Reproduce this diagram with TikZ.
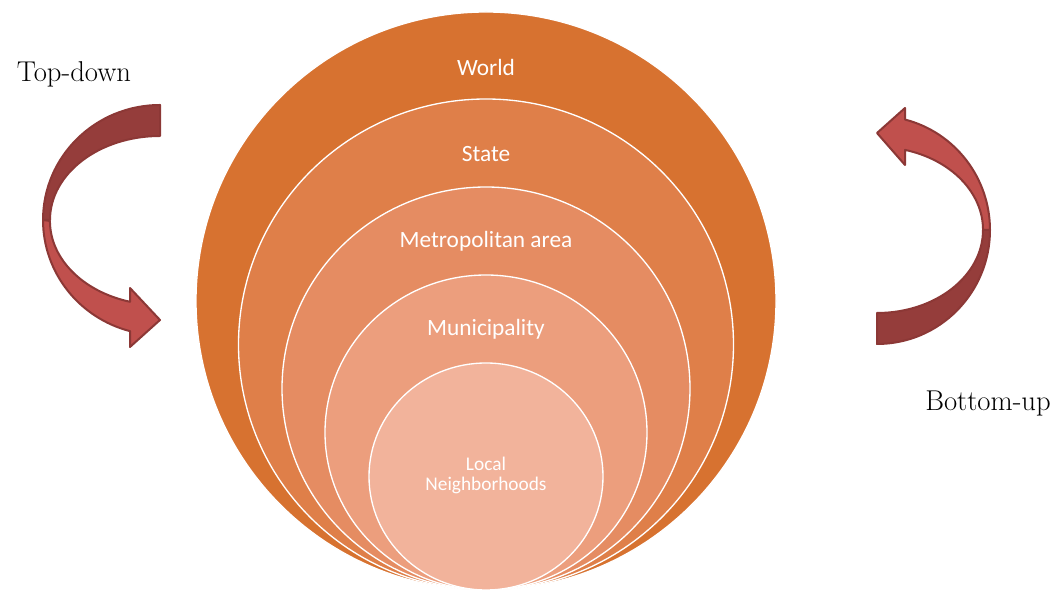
\documentclass[tikz,border=0pt]{standalone}
\usepackage{fontspec}
\newfontfamily\calibri{Carlito}
\usetikzlibrary{shapes.geometric}
\definecolor{worldorange}{RGB}{215,114,48}
\definecolor{stateorange}{RGB}{223,127,73}
\definecolor{metroorange}{RGB}{229,140,98}
\definecolor{muniorange}{RGB}{236,158,125}
\definecolor{localorange}{RGB}{242,179,155}
\definecolor{arrowdark}{RGB}{149,61,59}
\definecolor{arrowlight}{RGB}{192,80,77}
\definecolor{arrowline}{RGB}{140,56,54}
\begin{document}
\begin{tikzpicture}[x=0.75pt, y=0.75pt,
  ring/.style={ellipse, draw=white, line width=1pt, inner sep=0pt},
  ringlabel/.style={text=white, font=\calibri\fontsize{17.5}{20}\selectfont},
  side/.style={font=\fontsize{21.5}{25}\selectfont},
  back/.style={fill=arrowdark, draw=arrowline, line width=1.5pt, line join=round},
  front/.style={fill=arrowlight, draw=arrowline, line width=1.5pt, line join=round}]
  \useasboundingbox (0,0) rectangle (1054,592);
  \node[ring, fill=worldorange, minimum width=435pt, minimum height=433.5pt] (world) at (486,291) {};
  \node[ring, fill=stateorange, minimum width=371.25pt, minimum height=368.25pt] (state) at (486,247.5) {};
  \node[ring, fill=metroorange, minimum width=306pt, minimum height=302.25pt] (metro) at (486,203.5) {};
  \node[ring, fill=muniorange, minimum width=241.5pt, minimum height=236.25pt] (muni) at (486,159.5) {};
  \node[ring, fill=localorange, minimum width=175.5pt, minimum height=170.25pt] (local) at (486,115.5) {};
  \node[ringlabel] (worldlabel) at (486,525) {World};
  \node[ringlabel] (statelabel) at (486,438) {State};
  \node[ringlabel] (metrolabel) at (486,351) {Metropolitan area};
  \node[ringlabel] (munilabel) at (486,263) {Municipality};
  \node[ringlabel, font=\calibri\fontsize{14.5}{15}\selectfont, align=center] (locallabel) at (486,117) {Local\\Neighborhoods};
  % top-down arrow
  \draw[back] (160,487) arc[start angle=90, end angle=180, x radius=117, y radius=115]
    -- (50,372) arc[start angle=180, end angle=90, x radius=110, y radius=84] -- cycle;
  \draw[front] (43,372) arc[start angle=180, end angle=255.2, x radius=117, y radius=115]
    -- (130,245) -- (160,272) -- (130,304) -- (130,290.2)
    arc[start angle=254.2, end angle=180, x radius=110, y radius=84] -- cycle;
  \node[side] (topdown) at (74,518) {Top-down};
  % bottom-up arrow
  \draw[back] (877,248) arc[start angle=270, end angle=360, x radius=113, y radius=114]
    -- (983,362) arc[start angle=0, end angle=-90, x radius=106, y radius=83] -- cycle;
  \draw[front] (990,362) arc[start angle=0, end angle=75.6, x radius=113, y radius=114]
    -- (905,484) -- (877,459) -- (905,427) -- (905,442.1)
    arc[start angle=74.7, end angle=0, x radius=106, y radius=83] -- cycle;
  \node[side] (bottomup) at (988,188.5) {Bottom-up};
\end{tikzpicture}
\end{document}
